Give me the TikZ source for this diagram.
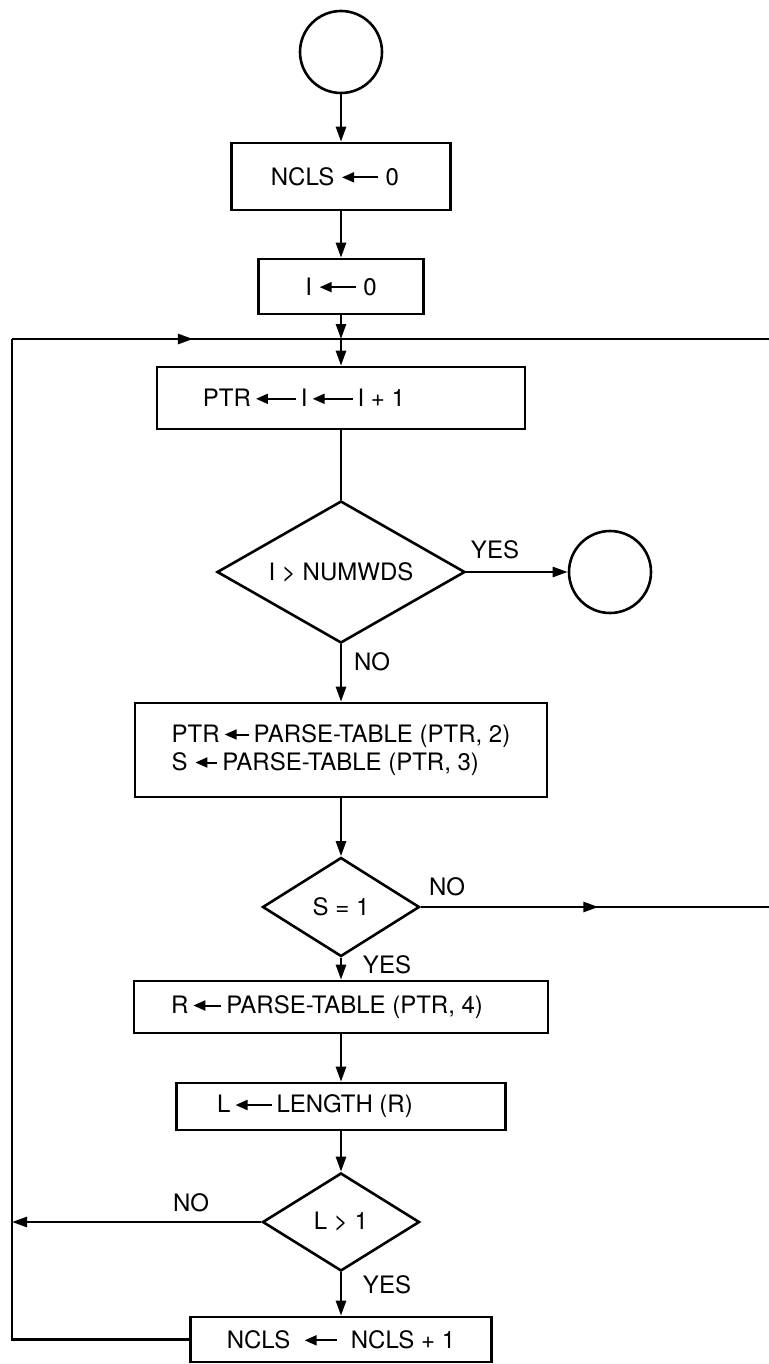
\documentclass[tikz,border=0pt]{standalone}
\usepackage{fontspec}
\setmainfont{TeX Gyre Heros}
\usetikzlibrary{arrows.meta,shapes.geometric,decorations.markings}
\newcommand{\asgn}[1][18pt]{\tikz[baseline=-0.33em]\draw[line width=1pt,{Triangle[length=6pt,width=5pt]}-] (0pt,0pt) -- (#1,0pt);}
\tikzset{
  box/.style={draw, line width=1.3pt, inner sep=2pt, font=\fontsize{12}{14}\selectfont},
  test/.style={box, diamond, aspect=1.7, inner sep=0pt},
  term/.style={draw, line width=1.3pt, circle, minimum size=41pt, inner sep=0pt},
  lbl/.style={font=\fontsize{12}{14}\selectfont, inner sep=1pt},
  flow/.style={-{Triangle[length=7.5pt,width=5pt]}, line width=1.3pt},
  line/.style={line width=1.3pt},
  midarrow/.style={line width=1.3pt, postaction={decorate},
    decoration={markings, mark=at position #1 with {\arrow{Triangle[length=7.5pt,width=5pt]}}}},
}

\begin{document}
\begin{tikzpicture}[x=0.5pt, y=-0.5pt]
    \useasboundingbox (0,0) rectangle (769,1364);
    % main column
    \node[term] (start) at (341,52) {};
    \node[box, minimum width=109.5pt, minimum height=33.5pt] (nclszero) at (341,176.5) {NCLS \asgn\ 0\hspace*{6pt}};
    \node[box, minimum width=82.5pt, minimum height=27.5pt] (izero) at (341,286.5) {I \asgn\ 0};
    \coordinate (join) at (341,339);
    \coordinate (loopL) at (12,339);
    \coordinate (loopR) at (769,339);
    \node[box, minimum width=184pt, minimum height=31pt] (ptr) at (341,398) {PTR\,\asgn[20pt]\,I\,\asgn[20pt]\,I + 1\hspace*{37pt}};
    \node[test, minimum width=124pt, minimum height=71pt] (numwds) at (341,572) {I > NUMWDS};
    \node[term] (stop) at (610,572) {};
    \node[box, minimum width=206pt, minimum height=47pt, align=left] (parse) at (341,750) {PTR\,\asgn[12pt]\,PARSE-TABLE (PTR, 2)\\S \asgn[11pt]\,PARSE-TABLE (PTR, 3)};
    \node[test, minimum width=78.5pt, minimum height=49.5pt] (sone) at (341,907) {S = 1};
    \coordinate (exitR) at (769,907);
    \node[box, minimum width=207pt, minimum height=26pt] (rbox) at (341,1007) {R\,\asgn[14pt]\,PARSE-TABLE (PTR, 4)\hspace*{14pt}};
    \node[box, minimum width=164.5pt, minimum height=23.5pt] (lbox) at (341,1106.5) {L\,\asgn[18pt]\,LENGTH (R)\hspace*{26pt}};
    \node[test, minimum width=78.5pt, minimum height=49pt] (lone) at (341,1222) {L > 1};
    \coordinate (backL) at (12,1222);
    \node[box, minimum width=150.5pt, minimum height=22.5pt] (incr) at (341,1339.5) {NCLS \ \asgn[16pt]\ \ NCLS + 1};
    % branch labels
    \node[lbl] (yes1) at (495,550) {YES};
    \node[lbl] (no1) at (372,662) {NO};
    \node[lbl] (no2) at (447,887) {NO};
    \node[lbl] (yes2) at (387,965) {YES};
    \node[lbl] (no3) at (191,1203) {NO};
    \node[lbl] (yes3) at (387,1285) {YES};
    % connectors
    \draw[flow] (start) -- (nclszero);
    \draw[flow] (nclszero) -- (izero);
    \draw[flow] (izero) -- (join);
    \draw[flow] (join) -- (ptr);
    \draw[line] (loopR) -- (join);
    \draw[line] (ptr) -- (numwds);
    \draw[flow] (numwds) -- (stop);
    \draw[flow] (numwds) -- (parse);
    \draw[flow] (parse) -- (sone);
    \draw[midarrow=0.51] (sone) -- (exitR);
    \draw[flow] (sone) -- (rbox);
    \draw[flow] (rbox) -- (lbox);
    \draw[flow] (lbox) -- (lone);
    \draw[flow] (lone) -- (backL);
    \draw[flow] (lone) -- (incr);
    \draw[line] (incr.west) -| (loopL);
    \draw[midarrow=0.55] (loopL) -- (join);
  \end{tikzpicture}
\end{document}
